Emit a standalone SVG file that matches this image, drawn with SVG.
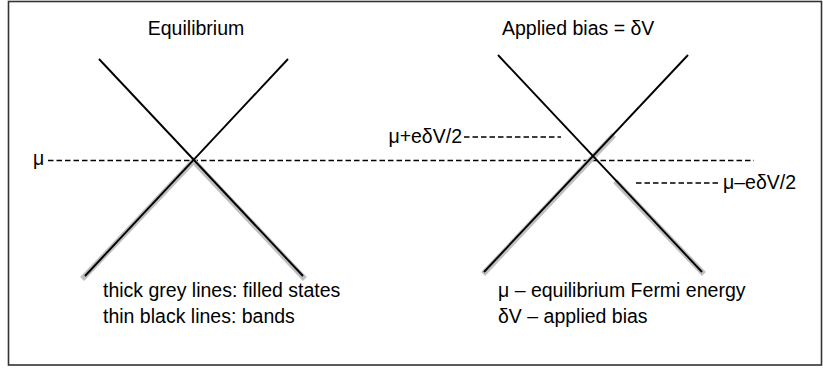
<svg xmlns="http://www.w3.org/2000/svg" width="823" height="368" viewBox="0 0 823 368">
<style>
text{font-family:"Liberation Sans",Arial,sans-serif;font-size:19.5px;fill:#000}
.band{stroke:#000;stroke-width:1.9;fill:none}
.fill{stroke:#bfbfbf;stroke-width:5.5;stroke-linecap:square;fill:none}
.dash{stroke:#000;stroke-width:1.4;stroke-dasharray:5.5,3;fill:none}
</style>
<rect x="8.5" y="1.5" width="813" height="363.5" fill="#fff" stroke="#333" stroke-width="1.6"/>
<g id="connectors">
<line class="dash" x1="48" y1="160.5" x2="754" y2="160.5"/>
<line class="dash" x1="464" y1="137" x2="561" y2="137"/>
<line class="dash" x1="636" y1="183" x2="718" y2="183"/>
</g>
<g id="equilibrium">
<line class="fill" x1="193.5" y1="161" x2="84" y2="277"/>
<line class="fill" x1="193.5" y1="161" x2="303" y2="277"/>
<line class="band" x1="99" y1="59" x2="303" y2="276"/>
<line class="band" x1="288" y1="59" x2="85" y2="276"/>
<text x="196" y="35" text-anchor="middle">Equilibrium</text>
</g>
<g id="bias">
<line class="fill" x1="612" y1="137" x2="485" y2="272"/>
<line class="fill" x1="617" y1="183" x2="702" y2="272"/>
<line class="band" x1="498" y1="55" x2="702" y2="272"/>
<line class="band" x1="688" y1="55" x2="484" y2="272"/>
<text x="502" y="35">Applied bias = δV</text>
</g>
<g id="labels">
<text x="33" y="165">μ</text>
<text x="462" y="143" text-anchor="end">μ+eδV/2</text>
<text x="723" y="189">μ–eδV/2</text>
</g>
<g id="legend">
<text x="103" y="297">thick grey lines: filled states</text>
<text x="103" y="323">thin black lines: bands</text>
<text x="498" y="297">μ – equilibrium Fermi energy</text>
<text x="498" y="323">δV – applied bias</text>
</g>
</svg>
